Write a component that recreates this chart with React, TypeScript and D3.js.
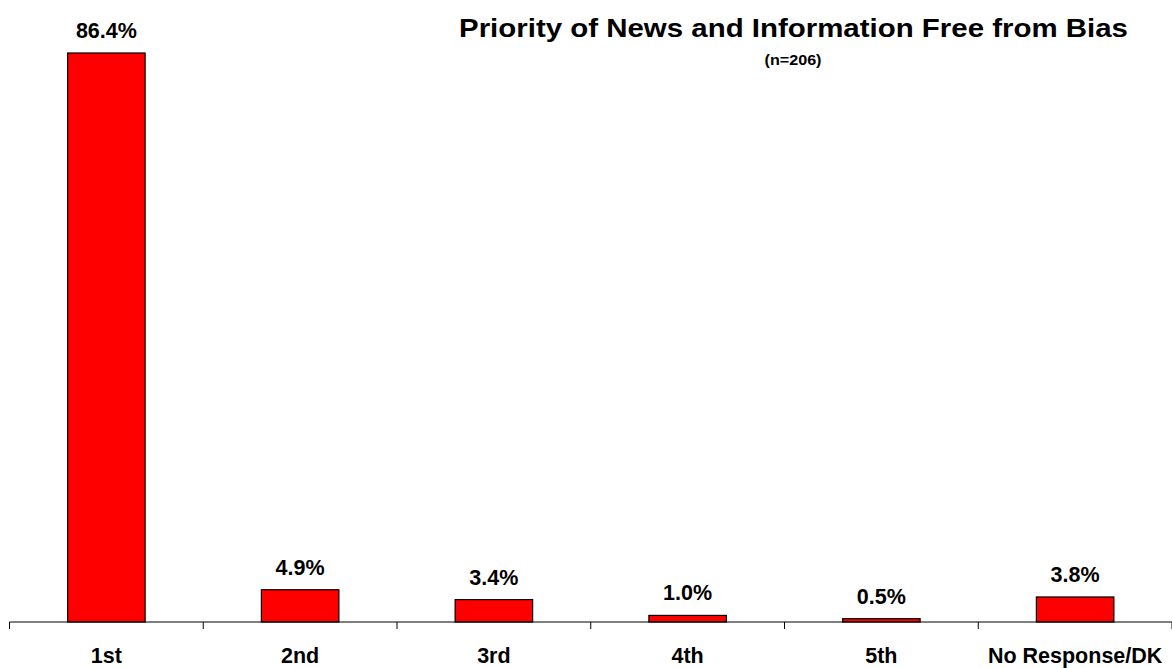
import React from "react";
import * as d3 from "d3";

const categories = ["1st", "2nd", "3rd", "4th", "5th", "No Response/DK"];
const values = [86.4, 4.9, 3.4, 1.0, 0.5, 3.8];
const valueLabels = ["86.4%", "4.9%", "3.4%", "1.0%", "0.5%", "3.8%"];
const title = "Priority of News and Information Free from Bias";
const subtitle = "(n=206)";

export default function App() {
  const W = 1172, H = 668;
  const left = 9.5, right = 1172, baseline = 622;
  const x = d3.scaleBand<string>().domain(categories).range([left, right]).paddingInner(0.6).paddingOuter(0.3);
  const y = d3.scaleLinear().domain([0, 86.4]).range([baseline, 53]);
  const step = (right - left) / categories.length;
  const ticks = d3.range(categories.length + 1).map((i) => left + i * step);
  const font = "'Liberation Sans', Arial, sans-serif";
  return (
    <svg width={W} height={H} style={{ position: "absolute", left: 0, top: 0 }} fontFamily={font}>
      <rect width={W} height={H} fill="#fff" />
      {categories.map((c, i) => (
        <rect key={c} x={x(c)!} y={y(values[i])} width={x.bandwidth()} height={baseline - y(values[i])}
          fill="#FF0000" stroke="#000" strokeWidth={1.2} />
      ))}
      <line x1={left} x2={right} y1={baseline} y2={baseline} stroke="#000" strokeWidth={1} />
      {ticks.map((t, i) => (
        <line key={i} x1={t} x2={t} y1={baseline} y2={baseline + 7} stroke="#000" strokeWidth={1} />
      ))}
      {categories.map((c, i) => (
        <text key={c} x={x(c)! + x.bandwidth() / 2} y={y(values[i]) - 15} textAnchor="middle"
          fontSize={21.5} fontWeight="bold">{valueLabels[i]}</text>
      ))}
      {categories.map((c, i) => (
        <text key={c} x={x(c)! + x.bandwidth() / 2} y={663} textAnchor="middle"
          fontSize={21.5} fontWeight="bold">{c}</text>
      ))}
      <text x={793.5} y={36.5} textAnchor="middle" fontSize={26.5} fontWeight="bold" textLength={669} lengthAdjust="spacingAndGlyphs">{title}</text>
      <text x={793} y={65} textAnchor="middle" fontSize={15} fontWeight="bold" textLength={57} lengthAdjust="spacingAndGlyphs">{subtitle}</text>
    </svg>
  );
}
